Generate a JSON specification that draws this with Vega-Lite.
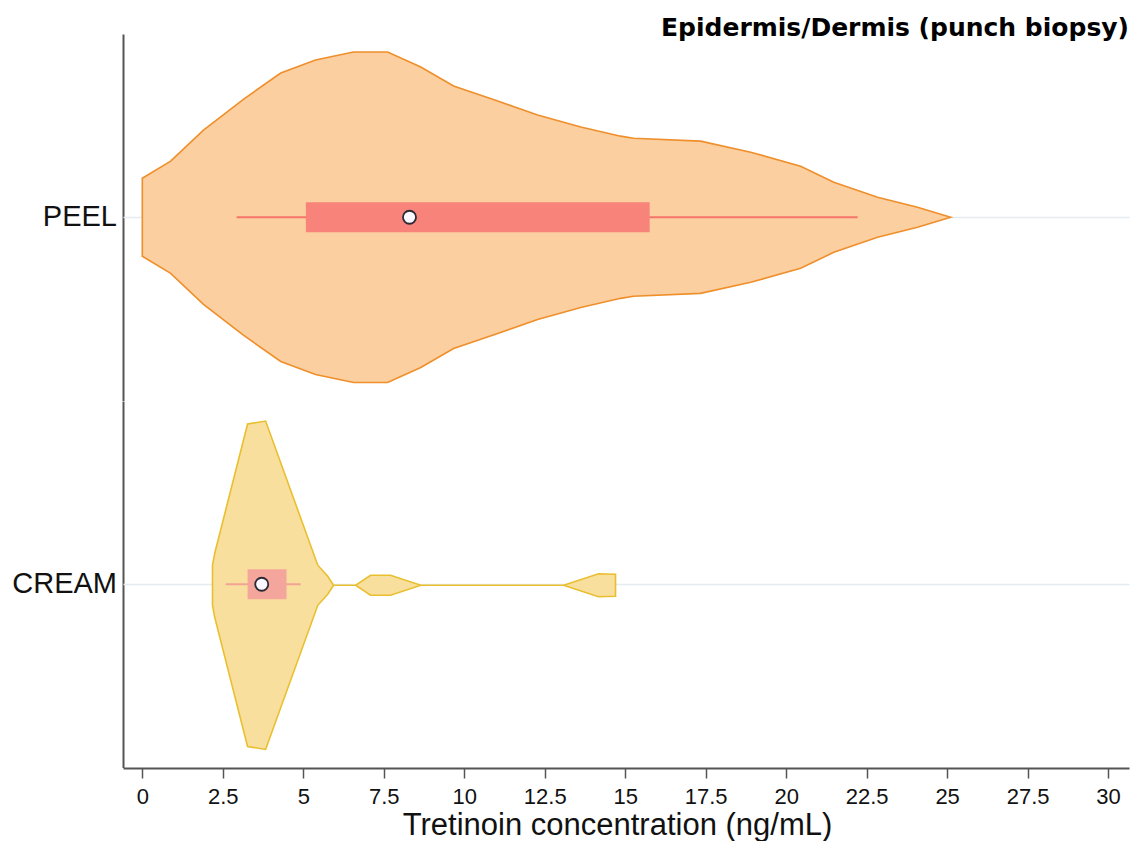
{
  "$schema": "https://vega.github.io/schema/vega-lite/v6.json",
  "autosize": {"type": "pad"},
  "padding": {"left": 12, "top": 16, "right": 12, "bottom": 0},
  "background": "white",
  "title": {
    "text": "Epidermis/Dermis (punch biopsy)",
    "anchor": "end",
    "frame": "bounds",
    "font": "DejaVu Sans",
    "fontSize": 25,
    "fontWeight": "bold",
    "color": "#000000",
    "offset": -7
  },
  "data": {
    "values": [
      {"kind": "v", "group": "PEEL", "conc": 0.0, "density": 0.426},
      {"kind": "v", "group": "PEEL", "conc": 0.88, "density": 0.612},
      {"kind": "v", "group": "PEEL", "conc": 1.9, "density": 0.951},
      {"kind": "v", "group": "PEEL", "conc": 3.15, "density": 1.29},
      {"kind": "v", "group": "PEEL", "conc": 4.3, "density": 1.574},
      {"kind": "v", "group": "PEEL", "conc": 5.38, "density": 1.716},
      {"kind": "v", "group": "PEEL", "conc": 6.56, "density": 1.803},
      {"kind": "v", "group": "PEEL", "conc": 7.62, "density": 1.803},
      {"kind": "v", "group": "PEEL", "conc": 8.65, "density": 1.639},
      {"kind": "v", "group": "PEEL", "conc": 9.67, "density": 1.432},
      {"kind": "v", "group": "PEEL", "conc": 11.04, "density": 1.268},
      {"kind": "v", "group": "PEEL", "conc": 12.28, "density": 1.115},
      {"kind": "v", "group": "PEEL", "conc": 13.62, "density": 0.984},
      {"kind": "v", "group": "PEEL", "conc": 14.86, "density": 0.885},
      {"kind": "v", "group": "PEEL", "conc": 15.26, "density": 0.863},
      {"kind": "v", "group": "PEEL", "conc": 17.34, "density": 0.831},
      {"kind": "v", "group": "PEEL", "conc": 18.9, "density": 0.71},
      {"kind": "v", "group": "PEEL", "conc": 20.45, "density": 0.557},
      {"kind": "v", "group": "PEEL", "conc": 21.48, "density": 0.383},
      {"kind": "v", "group": "PEEL", "conc": 22.84, "density": 0.219},
      {"kind": "v", "group": "PEEL", "conc": 24.08, "density": 0.109},
      {"kind": "v", "group": "PEEL", "conc": 25.11, "density": 0.0},
      {"kind": "v", "group": "CREAM", "conc": 2.18, "density": 0.219},
      {"kind": "v", "group": "CREAM", "conc": 2.25, "density": 0.35},
      {"kind": "v", "group": "CREAM", "conc": 3.27, "density": 1.76},
      {"kind": "v", "group": "CREAM", "conc": 3.83, "density": 1.792},
      {"kind": "v", "group": "CREAM", "conc": 5.45, "density": 0.219},
      {"kind": "v", "group": "CREAM", "conc": 5.76, "density": 0.098},
      {"kind": "v", "group": "CREAM", "conc": 5.94, "density": 0.0},
      {"kind": "v", "group": "CREAM", "conc": 6.63, "density": 0.0},
      {"kind": "v", "group": "CREAM", "conc": 7.09, "density": 0.109},
      {"kind": "v", "group": "CREAM", "conc": 7.71, "density": 0.109},
      {"kind": "v", "group": "CREAM", "conc": 8.65, "density": 0.0},
      {"kind": "v", "group": "CREAM", "conc": 13.09, "density": 0.0},
      {"kind": "v", "group": "CREAM", "conc": 14.17, "density": 0.126},
      {"kind": "v", "group": "CREAM", "conc": 14.7, "density": 0.12},
      {"kind": "b", "group": "PEEL", "q1": 5.08, "q3": 15.76, "median": 8.3, "lo": 2.93, "hi": 22.22},
      {"kind": "b", "group": "CREAM", "q1": 3.27, "q3": 4.48, "median": 3.71, "lo": 2.59, "hi": 4.92}
    ]
  },
  "facet": {
    "row": {
      "field": "group",
      "type": "nominal",
      "sort": ["PEEL", "CREAM"],
      "header": {
        "title": null,
        "labelAngle": 0,
        "labelAlign": "left",
        "labelOrient": "left",
        "labelFont": "Liberation Sans",
        "labelFontSize": 29,
        "labelColor": "#111111",
        "labelPadding": 6
      }
    }
  },
  "spacing": 0,
  "spec": {
    "width": 1006,
    "height": 366.5,
    "layer": [
      {
        "transform": [{"filter": "datum.kind === 'v'"}],
        "mark": {"type": "area", "interpolate": "linear", "strokeWidth": 1.6, "opacity": 1},
        "encoding": {
          "x": {
            "field": "conc",
            "type": "quantitative",
            "scale": {"domain": [-0.6, 30.65], "nice": false, "zero": false},
            "axis": {
              "title": "Tretinoin concentration (ng/mL)",
              "values": [0, 2.5, 5, 7.5, 10, 12.5, 15, 17.5, 20, 22.5, 25, 27.5, 30],
              "labelExpr": "datum.value + ''",
              "labelFont": "Liberation Sans",
              "labelFontSize": 22,
              "labelColor": "#111111",
              "labelPadding": 8.5,
              "labelFlush": false,
              "labelOverlap": false,
              "tickColor": "#555555",
              "tickSize": 10,
              "tickWidth": 1.5,
              "domainColor": "#555555",
              "domainWidth": 2,
              "grid": false,
              "titleFont": "Liberation Sans",
              "titleFontSize": 31,
              "titleFontWeight": "normal",
              "titleColor": "#111111",
              "titlePadding": 3,
              "titleX": 494
            }
          },
          "y": {
            "field": "density",
            "type": "quantitative",
            "stack": "center",
            "scale": {"domain": [-0.0985, 1.9015], "nice": false, "zero": false},
            "axis": {
              "title": null,
              "labels": false,
              "ticks": false,
              "grid": true,
              "values": [0.9015],
              "gridColor": "#E4ECF1",
              "gridWidth": 1.5,
              "domainColor": "#555555",
              "domainWidth": 2
            }
          },
          "fill": {"condition": {"test": "datum.group === 'PEEL'", "value": "#FBCFA0"}, "value": "#F9DF9E"},
          "stroke": {"condition": {"test": "datum.group === 'PEEL'", "value": "#EF8F2B"}, "value": "#E9BF2F"}
        }
      },
      {
        "transform": [{"filter": "datum.kind === 'b'"}],
        "mark": {"type": "rule", "strokeWidth": 2},
        "encoding": {
          "x": {"field": "lo", "type": "quantitative", "title": "Tretinoin concentration (ng/mL)"},
          "x2": {"field": "hi"},
          "color": {"condition": {"test": "datum.group === 'PEEL'", "value": "#F4766A"}, "value": "#F2A396"}
        }
      },
      {
        "transform": [{"filter": "datum.kind === 'b'"}],
        "mark": {"type": "bar", "height": 30, "opacity": 1},
        "encoding": {
          "x": {"field": "q1", "type": "quantitative", "title": "Tretinoin concentration (ng/mL)"},
          "x2": {"field": "q3"},
          "color": {"condition": {"test": "datum.group === 'PEEL'", "value": "#F8837A"}, "value": "#F5A69C"}
        }
      },
      {
        "transform": [{"filter": "datum.kind === 'b'"}],
        "mark": {"type": "point", "filled": true, "size": 170, "opacity": 1, "fill": "#FBF9FF", "stroke": "#2A2A35", "strokeWidth": 1.8},
        "encoding": {
          "x": {"field": "median", "type": "quantitative", "title": "Tretinoin concentration (ng/mL)"}
        }
      }
    ]
  },
  "config": {
    "view": {"stroke": null}
  }
}
